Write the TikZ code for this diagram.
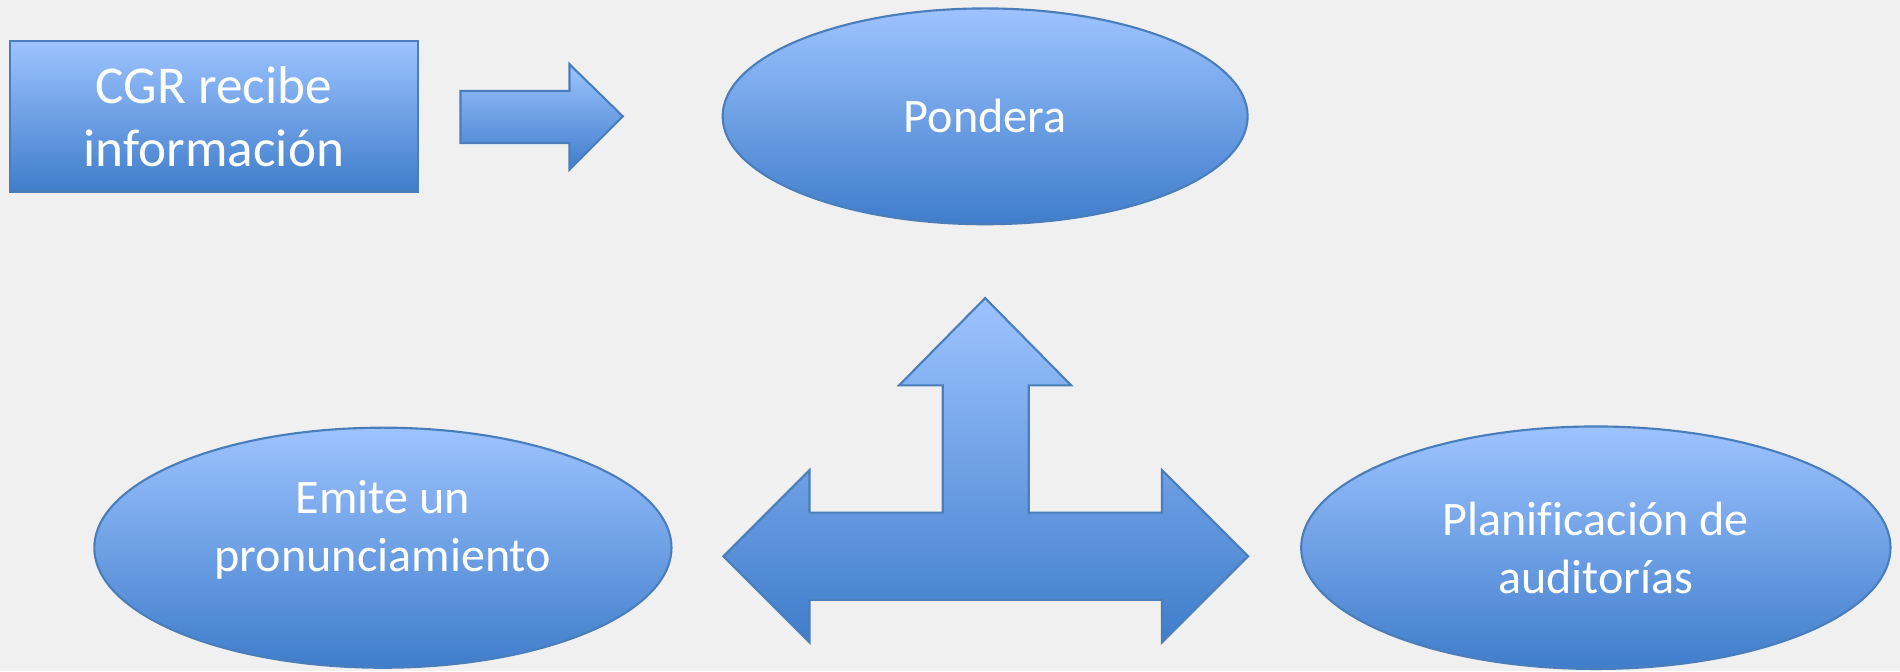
\documentclass[tikz,border=0pt]{standalone}
\usepackage{fontspec}
\setmainfont{Carlito}[Ligatures=NoCommon]
\usetikzlibrary{shapes.geometric}
\definecolor{fondo}{HTML}{F0F0F0}
\definecolor{azulclaro}{HTML}{9DC3FF}
\definecolor{azuloscuro}{HTML}{3F7DCB}
\definecolor{borde}{HTML}{4A7EBB}
\tikzset{
  relleno/.style={draw=borde, line width=0.5pt, top color=azulclaro, bottom color=azuloscuro},
  caja/.style={relleno, rectangle, text=white, align=center, inner sep=0pt,
    minimum width=3.37cm, minimum height=1.24cm, font=\fontsize{12.5}{14.8}\selectfont},
  elipse/.style={relleno, ellipse, text=white, align=center, inner sep=0pt,
    font=\fontsize{11.3}{13.5}\selectfont},
}

\begin{document}
\begin{tikzpicture}[x=0.01cm, y=-0.01cm]
  \fill[fondo] (0,0) rectangle (1568,554);
  \useasboundingbox (0,0) rectangle (1568,554);

  \node[caja] (cgr) at (176.5,96) {CGR recibe\\información};
  \node[elipse, minimum width=4.33cm, minimum height=1.78cm] (pondera) at (813,96) {Pondera};
  \node[elipse, minimum width=4.76cm, minimum height=1.98cm, text depth=0.36cm] (emite) at (316,452) {Emite un\\pronunciamiento};
  \node[elipse, minimum width=4.86cm, minimum height=2.0cm] (planif) at (1317,452) {Planificación de\\auditorías};

  % flecha hacia Pondera
  \path[relleno] (380,75) -- (470,75) -- (470,53) -- (514,96) -- (470,140)
    -- (470,118) -- (380,118) -- cycle;

  % flecha de tres puntas
  \path[relleno] (813,246) -- (884,318) -- (849,318) -- (849,423) -- (959,423)
    -- (959,388) -- (1030,459) -- (959,530) -- (959,495) -- (668,495)
    -- (668,530) -- (597,459) -- (668,388) -- (668,423) -- (778,423)
    -- (778,318) -- (742,318) -- cycle;
\end{tikzpicture}
\end{document}
